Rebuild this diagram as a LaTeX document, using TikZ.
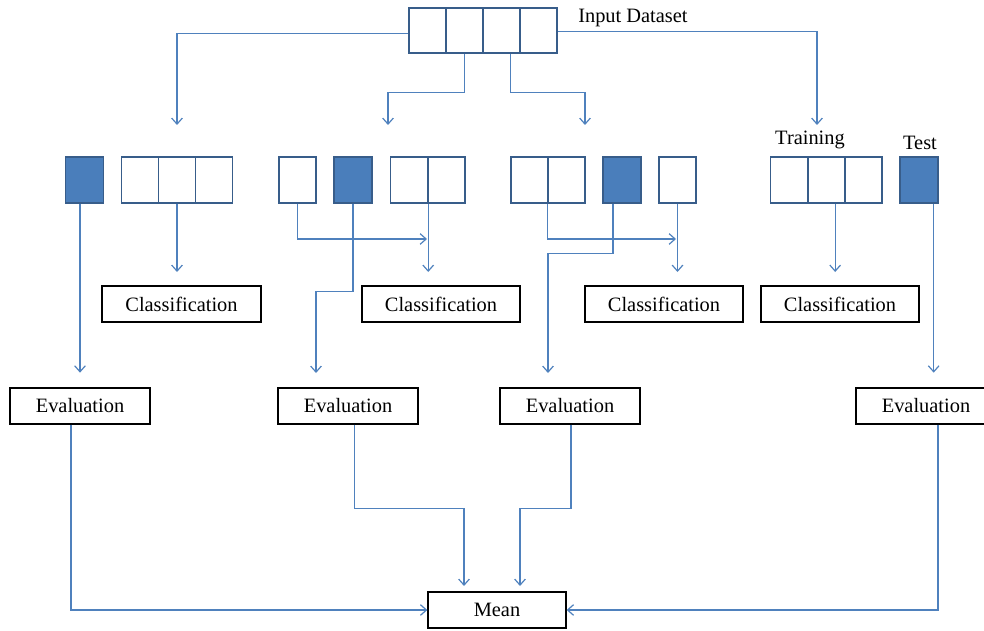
\documentclass[tikz,border=0pt]{standalone}
\usepackage{fontspec}
\setmainfont{Liberation Serif}
\usetikzlibrary{arrows.meta}
\definecolor{linec}{HTML}{4F81BD}
\definecolor{cellb}{HTML}{385D8A}
\definecolor{cellf}{HTML}{4A7EBB}
\tikzset{
  cellbox/.style={draw=cellb,line width=1.1pt,minimum width=27.75pt,minimum height=34.5pt,inner sep=0pt,fill=white},
  darkcell/.style={cellbox,fill=cellf,minimum width=28.5pt},
  txtbox/.style={draw=black,line width=1pt,minimum height=27pt,inner sep=0pt,font=\fontsize{15.3}{18}\selectfont,fill=white},
  conn/.style={draw=linec,line width=0.9pt,-{Straight Barb[length=4.5pt,width=8pt,line width=0.9pt]}},
  plain/.style={draw=linec,line width=0.9pt},
  lbl/.style={font=\fontsize{15.3}{18}\selectfont,inner sep=0pt}
}
\begin{document}
\begin{tikzpicture}[x=0.75pt,y=-0.75pt]
\useasboundingbox (0,0) rectangle (984,631);
\clip (0,0) rectangle (984,631);
% input dataset
\node[cellbox,minimum height=33.75pt] (in1) at (427.5,30.5) {};
\node[cellbox,minimum height=33.75pt] (in2) at (464.5,30.5) {};
\node[cellbox,minimum height=33.75pt] (in3) at (501.5,30.5) {};
\node[cellbox,minimum height=33.75pt] (in4) at (538.5,30.5) {};
\node[lbl,anchor=west] (title) at (578,18) {Input Dataset};
% group 1
\node[darkcell] (g1f) at (84.5,180) {};
\node[cellbox] (g1a) at (140,180) {};
\node[cellbox] (g1b) at (177,180) {};
\node[cellbox] (g1c) at (214,180) {};
% group 2
\node[cellbox] (g2a) at (297.5,180) {};
\node[darkcell] (g2f) at (353,180) {};
\node[cellbox] (g2b) at (409,180) {};
\node[cellbox] (g2c) at (446.5,180) {};
% group 3
\node[cellbox] (g3a) at (529.5,180) {};
\node[cellbox] (g3b) at (566.5,180) {};
\node[darkcell] (g3f) at (622,180) {};
\node[cellbox] (g3c) at (677.5,180) {};
% group 4
\node[cellbox] (g4a) at (789,180) {};
\node[cellbox] (g4b) at (826.5,180) {};
\node[cellbox] (g4c) at (863.5,180) {};
\node[darkcell] (g4f) at (919,180) {};
\node[lbl] (train) at (810,140) {Training};
\node[lbl] (test) at (920,143) {Test};
% classification
\node[txtbox,minimum width=119.25pt] (cl1) at (181.5,304) {Classification};
\node[txtbox,minimum width=118.5pt] (cl2) at (441,304) {Classification};
\node[txtbox,minimum width=118.5pt] (cl3) at (664,304) {Classification};
\node[txtbox,minimum width=118.5pt] (cl4) at (840,304) {Classification};
% evaluation
\node[txtbox,minimum width=105pt] (ev1) at (80,406) {Evaluation};
\node[txtbox,minimum width=105pt] (ev2) at (348,406) {Evaluation};
\node[txtbox,minimum width=105pt] (ev3) at (570,406) {Evaluation};
\node[txtbox,minimum width=105pt] (ev4) at (926,406) {Evaluation};
% mean
\node[txtbox,minimum width=103.5pt] (mean) at (497,610) {Mean};
% free ends
\coordinate (a1) at (177,125);
\coordinate (a2) at (388,125);
\coordinate (a3) at (585,125);
\coordinate (a4) at (817,125);
\coordinate (j2) at (427,239);
\coordinate (j3) at (676,239);
\coordinate (e2) at (316,373);
\coordinate (e3) at (548,373);
% top connectors
\draw[conn] ([yshift=-2.5pt]in1.west) -| (a1);
\draw[conn] ([yshift=-0.5pt]in4.east) -| (a4);
\draw[conn] (in2.south) -- ++(0,39) -| (a2);
\draw[conn] ([xshift=7pt]in3.south) -- ++(0,39) -| (a3);
% group 1
\draw[conn,shorten >=11pt] (g1f.south -| ev1.north) -- (ev1.north);
\draw[conn,shorten >=10pt] (g1b.south) -- (g1b.south |- cl1.north);
% group 2
\draw[conn] (g2a.south) |- (j2);
\draw[conn,shorten >=10pt] (g2b.south east) -- (g2b.south east |- cl2.north);
\draw[conn] (g2f.south) -- ++(0,88) -| (e2);
% group 3
\draw[conn] (g3b.south west) |- (j3);
\draw[conn,shorten >=10pt] (g3c.south) -- (g3c.south |- cl3.north);
\draw[conn] ([xshift=-6.75pt]g3f.south) -- ++(0,50) -| (e3);
% group 4
\draw[conn,shorten >=10pt] ([xshift=6.5pt]g4b.south) -- ([xshift=6.5pt]g4b.south |- cl4.north);
\draw[conn,shorten >=11pt] ([xshift=11pt]g4f.south) -- ([xshift=11pt]g4f.south |- ev4.north);
% bottom
\draw[conn] ([xshift=-6.75pt]ev1.south) |- (mean.west);
\draw[conn,shorten >=4pt] ([xshift=5pt]ev2.south) -- ++(0,84) -| ([xshift=-24.75pt]mean.north);
\draw[conn,shorten >=4pt] ([xshift=0.75pt]ev3.south) -- ++(0,84) -| ([xshift=17.25pt]mean.north);
\draw[conn] ([xshift=9pt]ev4.south) |- (mean.east);
\end{tikzpicture}
\end{document}
